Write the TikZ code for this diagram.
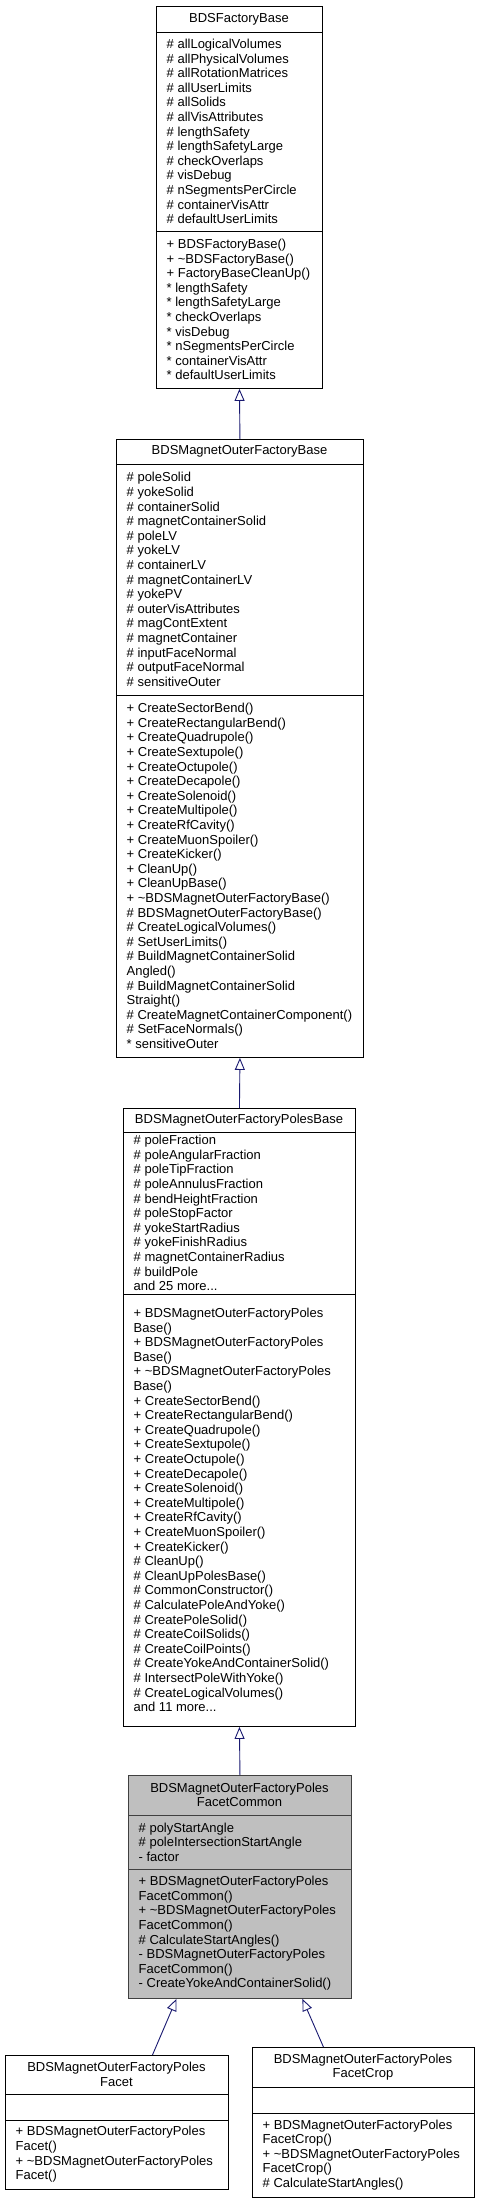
\documentclass[tikz,border=0pt]{standalone}
\usepackage{fontspec}
\setmainfont{Liberation Sans}
\usetikzlibrary{arrows.meta}
\definecolor{edgeblue}{HTML}{191970}
\definecolor{curfill}{HTML}{BFBFBF}

\begin{document}
\begin{tikzpicture}[x=1pt,y=-1pt,
  classbox/.style={draw=black,fill=white,line width=0.9pt,inner sep=0pt,anchor=north west},
  curbox/.style={classbox,draw=black!75,fill=curfill},
  members/.style={anchor=west,align=left,inner sep=0pt,font=\fontsize{13}{14.6}\selectfont},
  classname/.style={align=center,inner sep=0pt,font=\fontsize{13}{14.6}\selectfont},
  inherit/.style={draw=edgeblue,line width=0.9pt,-{Triangle[open,length=12pt,width=10pt]}}]
\useasboundingbox (0,0) rectangle (480,2203);

% BDSFactoryBase
\node[classbox,minimum width=166pt,minimum height=382pt] (factorybase) at (156,6) {};
\draw[line width=0.9pt] (156,32) -- (322,32);
\draw[line width=0.9pt] (156,231) -- (322,231);
\node[classname] at (239,19) {BDSFactoryBase};
\node[members] at (166.5,131.5) {\# allLogicalVolumes\\\# allPhysicalVolumes\\\# allRotationMatrices\\\# allUserLimits\\\# allSolids\\\# allVisAttributes\\\# lengthSafety\\\# lengthSafetyLarge\\\# checkOverlaps\\\# visDebug\\\# nSegmentsPerCircle\\\# containerVisAttr\\\# defaultUserLimits};
\node[members] at (166.5,309.5) {+ BDSFactoryBase()\\+ \textasciitilde BDSFactoryBase()\\+ FactoryBaseCleanUp()\\* lengthSafety\\* lengthSafetyLarge\\* checkOverlaps\\* visDebug\\* nSegmentsPerCircle\\* containerVisAttr\\* defaultUserLimits};

% BDSMagnetOuterFactoryBase
\node[classbox,minimum width=247pt,minimum height=618pt] (outerbase) at (116,439) {};
\draw[line width=0.9pt] (116,464) -- (363,464);
\draw[line width=0.9pt] (116,695) -- (363,695);
\node[classname] at (239.5,451.5) {BDSMagnetOuterFactoryBase};
\node[members] at (126.5,579.5) {\# poleSolid\\\# yokeSolid\\\# containerSolid\\\# magnetContainerSolid\\\# poleLV\\\# yokeLV\\\# containerLV\\\# magnetContainerLV\\\# yokePV\\\# outerVisAttributes\\\# magContExtent\\\# magnetContainer\\\# inputFaceNormal\\\# outputFaceNormal\\\# sensitiveOuter};
\node[members] at (126.5,876) {+ CreateSectorBend()\\+ CreateRectangularBend()\\+ CreateQuadrupole()\\+ CreateSextupole()\\+ CreateOctupole()\\+ CreateDecapole()\\+ CreateSolenoid()\\+ CreateMultipole()\\+ CreateRfCavity()\\+ CreateMuonSpoiler()\\+ CreateKicker()\\+ CleanUp()\\+ CleanUpBase()\\+ \textasciitilde BDSMagnetOuterFactoryBase()\\\# BDSMagnetOuterFactoryBase()\\\# CreateLogicalVolumes()\\\# SetUserLimits()\\\# BuildMagnetContainerSolid\\Angled()\\\# BuildMagnetContainerSolid\\Straight()\\\# CreateMagnetContainerComponent()\\\# SetFaceNormals()\\* sensitiveOuter};

% BDSMagnetOuterFactoryPolesBase
\node[classbox,minimum width=232pt,minimum height=618pt] (polesbase) at (123,1108) {};
\draw[line width=0.9pt] (123,1132) -- (355,1132);
\draw[line width=0.9pt] (123,1294) -- (355,1294);
\node[classname] at (239,1120) {BDSMagnetOuterFactoryPolesBase};
\node[members] at (133.5,1213) {\# poleFraction\\\# poleAngularFraction\\\# poleTipFraction\\\# poleAnnulusFraction\\\# bendHeightFraction\\\# poleStopFactor\\\# yokeStartRadius\\\# yokeFinishRadius\\\# magnetContainerRadius\\\# buildPole\\and 25 more...};
\node[members] at (133.5,1510) {+ BDSMagnetOuterFactoryPoles\\Base()\\+ BDSMagnetOuterFactoryPoles\\Base()\\+ \textasciitilde BDSMagnetOuterFactoryPoles\\Base()\\+ CreateSectorBend()\\+ CreateRectangularBend()\\+ CreateQuadrupole()\\+ CreateSextupole()\\+ CreateOctupole()\\+ CreateDecapole()\\+ CreateSolenoid()\\+ CreateMultipole()\\+ CreateRfCavity()\\+ CreateMuonSpoiler()\\+ CreateKicker()\\\# CleanUp()\\\# CleanUpPolesBase()\\\# CommonConstructor()\\\# CalculatePoleAndYoke()\\\# CreatePoleSolid()\\\# CreateCoilSolids()\\\# CreateCoilPoints()\\\# CreateYokeAndContainerSolid()\\\# IntersectPoleWithYoke()\\\# CreateLogicalVolumes()\\and 11 more...};

% BDSMagnetOuterFactoryPolesFacetCommon
\node[curbox,minimum width=223pt,minimum height=223pt] (facetcommon) at (128,1775) {};
\draw[line width=0.9pt,draw=black!75] (128,1815) -- (351,1815);
\draw[line width=0.9pt,draw=black!75] (128,1869) -- (351,1869);
\node[classname] at (239.5,1795) {BDSMagnetOuterFactoryPoles\\FacetCommon};
\node[members] at (138.5,1842) {\# polyStartAngle\\\# poleIntersectionStartAngle\\- factor};
\node[members] at (138.5,1933.5) {+ BDSMagnetOuterFactoryPoles\\FacetCommon()\\+ \textasciitilde BDSMagnetOuterFactoryPoles\\FacetCommon()\\\# CalculateStartAngles()\\- BDSMagnetOuterFactoryPoles\\FacetCommon()\\- CreateYokeAndContainerSolid()};

% BDSMagnetOuterFactoryPolesFacet
\node[classbox,minimum width=223pt,minimum height=134pt] (facet) at (5,2055) {};
\draw[line width=0.9pt] (5,2094) -- (228,2094);
\draw[line width=0.9pt] (5,2120) -- (228,2120);
\node[classname] at (116.5,2074.5) {BDSMagnetOuterFactoryPoles\\Facet};
\node[members] at (15.5,2154.5) {+ BDSMagnetOuterFactoryPoles\\Facet()\\+ \textasciitilde BDSMagnetOuterFactoryPoles\\Facet()};

% BDSMagnetOuterFactoryPolesFacetCrop
\node[classbox,minimum width=222pt,minimum height=150pt] (facetcrop) at (252,2047) {};
\draw[line width=0.9pt] (252,2087) -- (474,2087);
\draw[line width=0.9pt] (252,2113) -- (474,2113);
\node[classname] at (363,2067) {BDSMagnetOuterFactoryPoles\\FacetCrop};
\node[members] at (262.5,2155) {+ BDSMagnetOuterFactoryPoles\\FacetCrop()\\+ \textasciitilde BDSMagnetOuterFactoryPoles\\FacetCrop()\\\# CalculateStartAngles()};

% inheritance
\draw[inherit] (outerbase.north) -- (factorybase.south);
\draw[inherit] (polesbase.north) -- (outerbase.south);
\draw[inherit] (facetcommon.north) -- (polesbase.south);
\draw[inherit] ([xshift=35.5pt]facet.north) -- ([xshift=-63.5pt]facetcommon.south);
\draw[inherit] ([xshift=-40pt]facetcrop.north) -- ([xshift=62.5pt]facetcommon.south);
\end{tikzpicture}
\end{document}
